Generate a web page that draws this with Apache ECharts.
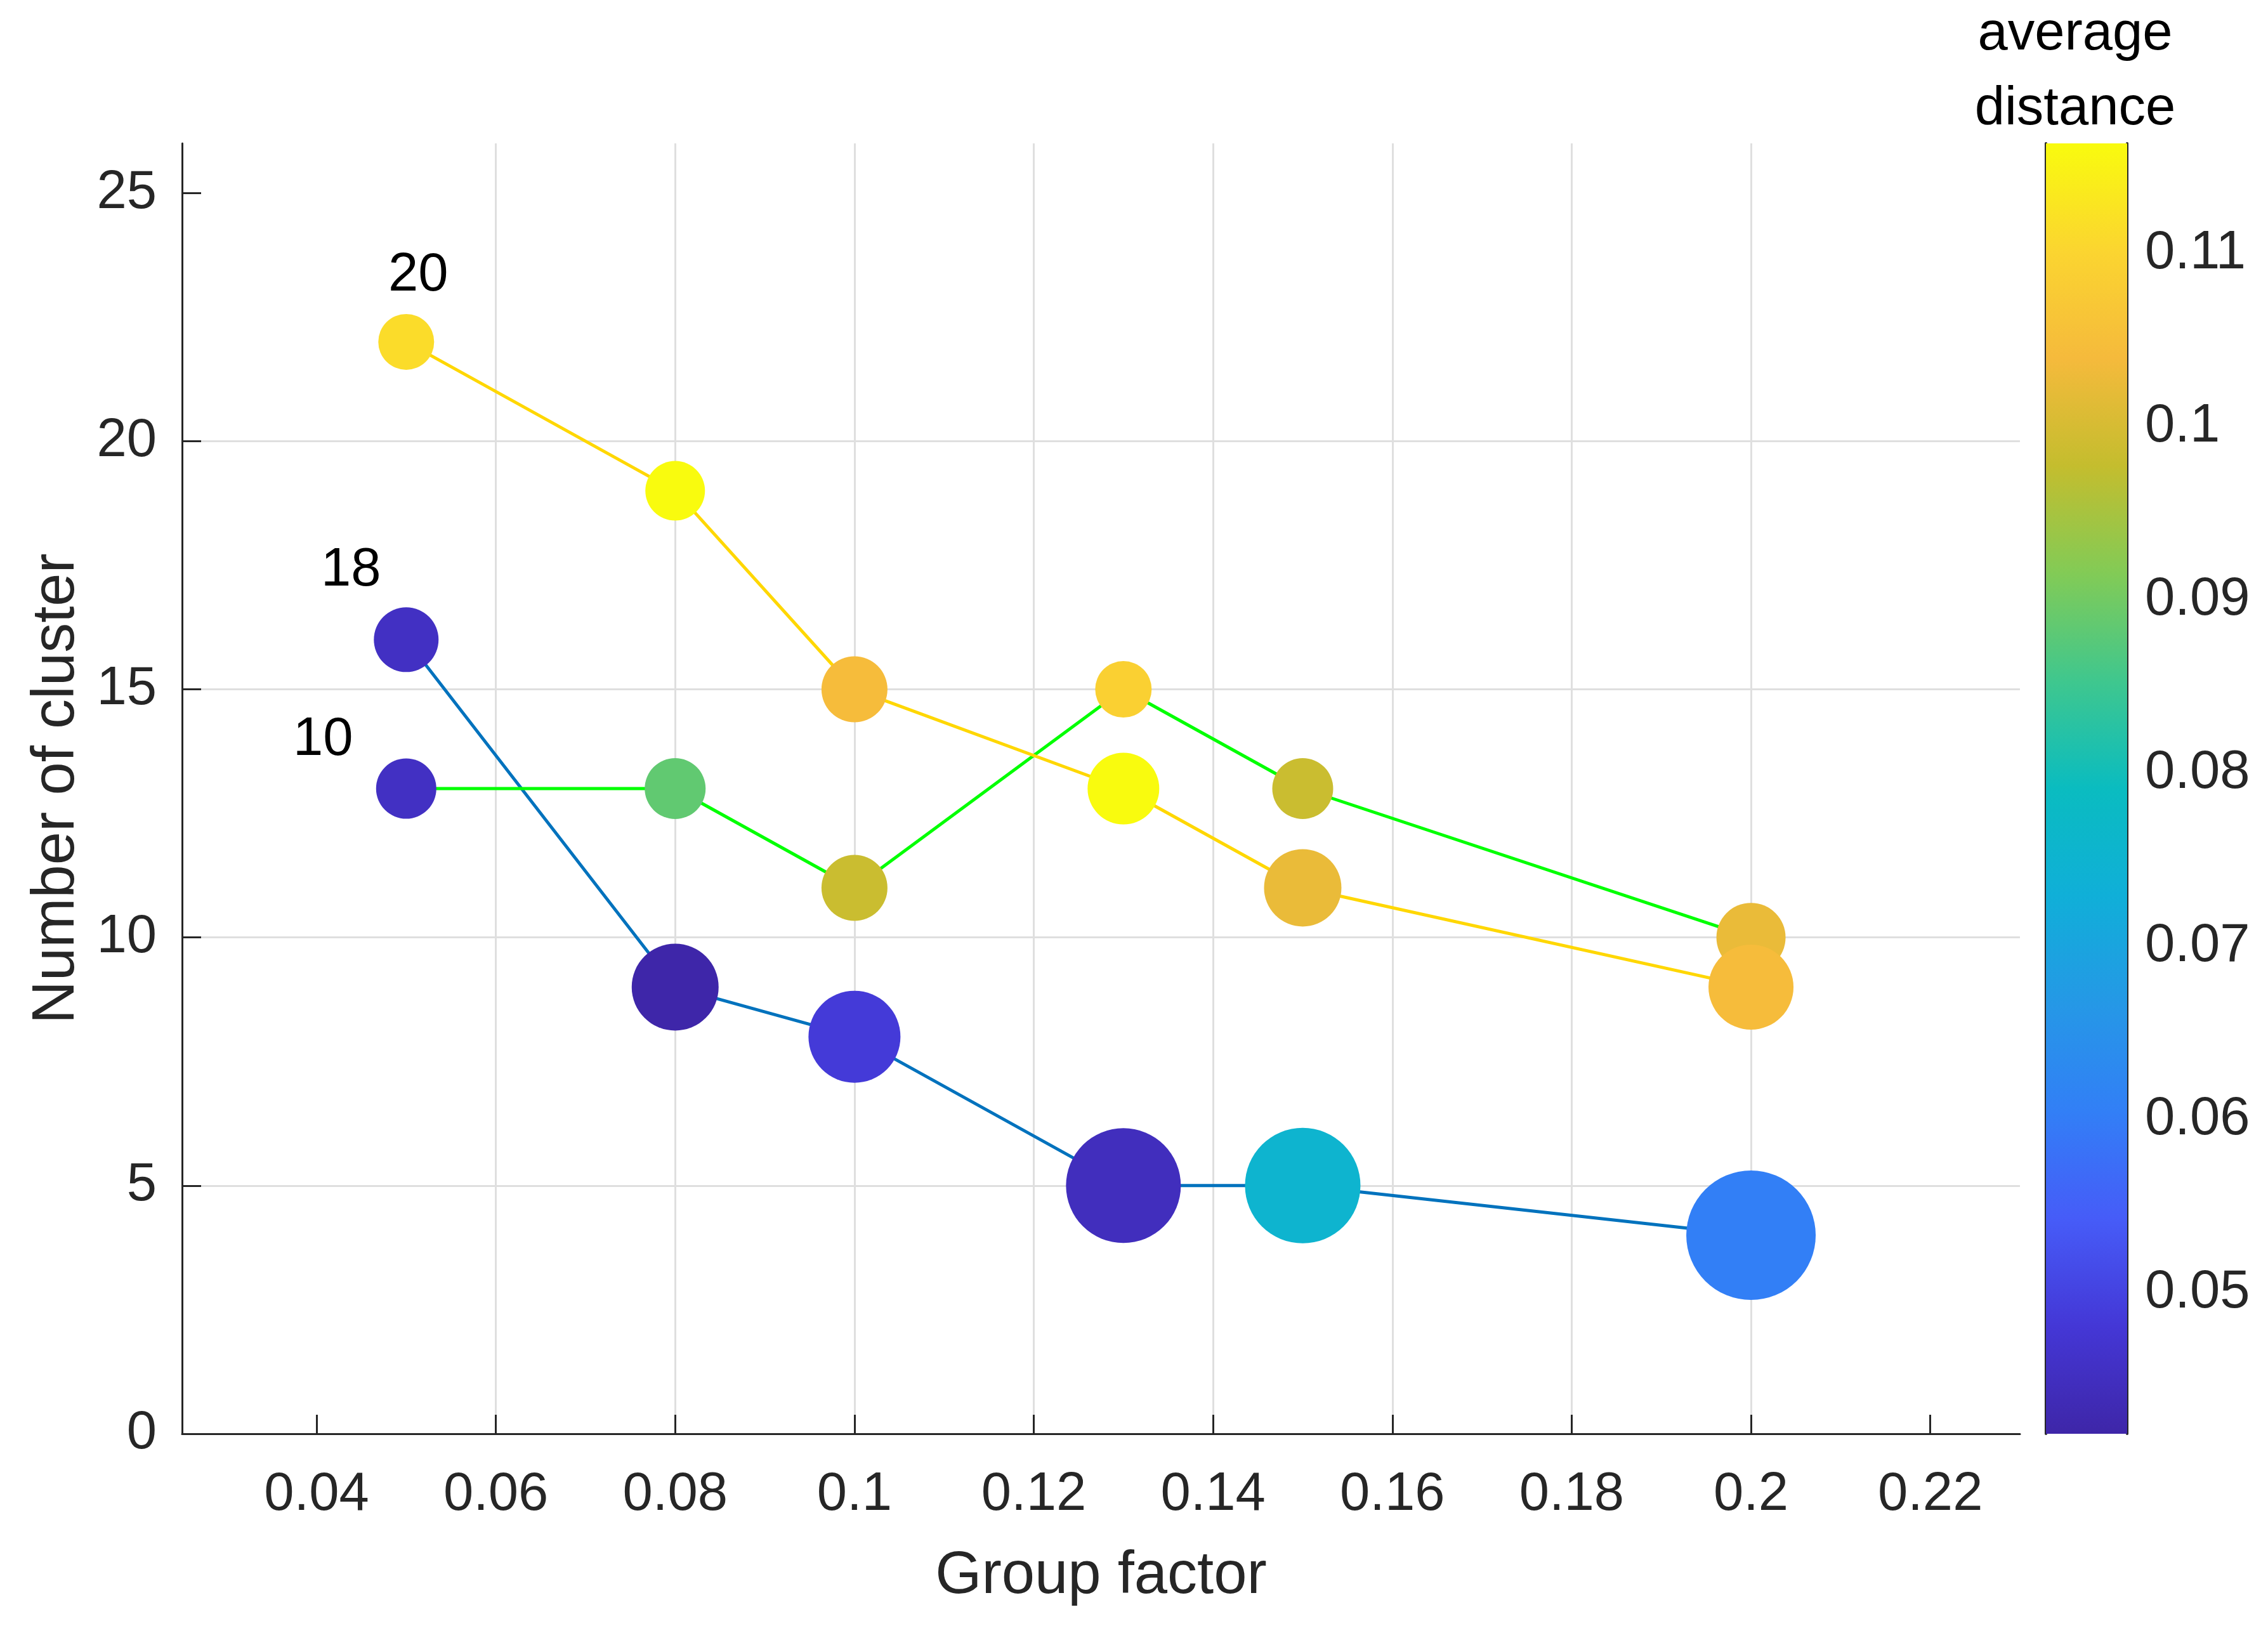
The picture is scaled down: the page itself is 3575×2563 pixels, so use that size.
<!DOCTYPE html>
<html>
<head>
<meta charset="utf-8">
<script src="https://cdn.jsdelivr.net/npm/echarts@6/dist/echarts.min.js"></script>
<style>
  html, body { margin: 0; padding: 0; background: #fff; }
  #chart { width: 3575px; height: 2563px; }
</style>
</head>
<body>
<div id="chart"></div>
<script>
// group factor on x, number of clusters on y
var groupFactor = [0.05, 0.08, 0.1, 0.13, 0.15, 0.2];

var clusterBlue = [16, 9, 8, 5, 5, 4];
var clusterGreen = [13, 13, 11, 15, 13, 10];
var clusterYellow = [22, 19, 15, 13, 11, 9];

// average distance (colour)
var distBlue = [0.0455, 0.0420, 0.0485, 0.0447, 0.0753, 0.0604];
var distGreen = [0.0455, 0.0885, 0.0985, 0.1089, 0.0985, 0.1025];
var distYellow = [0.1112, 0.1163, 0.1045, 0.1163, 0.1025, 0.1045];

// bubble size
var sizeBlue = [102, 137, 145, 181, 182, 204];
var sizeGreen = [95, 96, 104, 89, 96, 109];
var sizeYellow = [88, 94, 104, 113, 122, 134];

var tags = ['18', '10', '20'];

var xTicks = [0.04, 0.06, 0.08, 0.1, 0.12, 0.14, 0.16, 0.18, 0.2, 0.22];
var yTicks = [0, 5, 10, 15, 20, 25];
var cbarTicks = [0.05, 0.06, 0.07, 0.08, 0.09, 0.1, 0.11];
var cbarRange = [0.04186, 0.11634];

// parula-like colour map, low -> high
var cmap = ['#3e26a8', '#4437d6', '#465cf8', '#327ff6', '#2598e6', '#10afd8', '#0abcc0',
            '#3fc78e', '#82cb56', '#c4bd2e', '#f5ba3c', '#fbd530', '#f9fb0e'];

var FONT = "'Liberation Sans', Arial, Helvetica, sans-serif";
var TXT = '#262626';

var dom = document.getElementById('chart');
var myChart = echarts.init(dom, null, { renderer: 'canvas' });

function pts(ys, ds, ss) {
  return groupFactor.map(function (x, i) { return [x, ys[i], ds[i], ss[i]]; });
}
function linePts(ys) {
  return groupFactor.map(function (x, i) { return [x, ys[i]]; });
}
function bubbles(name, ys, ds, ss, tag, off) {
  var data = pts(ys, ds, ss);
  data[0] = {
    value: data[0],
    label: {
      show: true, formatter: tag, position: 'inside', offset: off,
      color: '#000', fontSize: 85, fontFamily: FONT
    }
  };
  return {
    name: name, type: 'scatter', xAxisIndex: 0, yAxisIndex: 0,
    symbolSize: function (d) { return d[3]; },
    itemStyle: { opacity: 1 },
    data: data, z: 3, silent: true
  };
}

var stops = cmap.map(function (c, i) { return { offset: i / (cmap.length - 1), color: c }; });

var option = {
  animation: false,
  backgroundColor: '#fff',
  textStyle: { fontFamily: FONT },
  grid: [
    { left: 287, right: 391, top: 226, bottom: 303 },
    { left: 3225, width: 128, top: 226, bottom: 303 }
  ],
  xAxis: [
    {
      type: 'value', gridIndex: 0, min: 0.025, max: 0.23, splitNumber: 10,
      name: 'Group factor', nameLocation: 'middle', nameGap: 178,
      nameTextStyle: { fontSize: 94, color: TXT, fontFamily: FONT },
      axisLine: { show: true, onZero: false, lineStyle: { color: TXT, width: 3 } },
      axisTick: { show: true, inside: true, length: 30, customValues: xTicks, lineStyle: { color: TXT, width: 3 } },
      axisLabel: { customValues: xTicks, fontSize: 85, color: TXT, margin: 54, fontFamily: FONT },
      splitLine: { show: true, showMinLine: false, showMaxLine: false, lineStyle: { color: '#dfdfdf', width: 3 } }
    },
    {
      type: 'value', gridIndex: 1, min: 0, max: 1, show: false
    }
  ],
  yAxis: [
    {
      type: 'value', gridIndex: 0, min: 0, max: 26, splitNumber: 5,
      name: 'Number of cluster', nameLocation: 'middle', nameGap: 150,
      nameTextStyle: { fontSize: 94, color: TXT, fontFamily: FONT },
      axisLine: { show: true, onZero: false, lineStyle: { color: TXT, width: 3 } },
      axisTick: { show: true, inside: true, length: 30, customValues: yTicks, lineStyle: { color: TXT, width: 3 } },
      axisLabel: { customValues: yTicks, fontSize: 85, color: TXT, margin: 40, fontFamily: FONT },
      splitLine: { show: true, showMinLine: false, showMaxLine: false, lineStyle: { color: '#dfdfdf', width: 3 } }
    },
    {
      type: 'value', gridIndex: 1, position: 'left', min: cbarRange[0], max: cbarRange[1],
      axisLine: { show: true, lineStyle: { color: TXT, width: 4 } },
      axisTick: { show: false }, axisLabel: { show: false }, splitLine: { show: false }
    },
    {
      type: 'value', gridIndex: 1, position: 'right', min: cbarRange[0], max: cbarRange[1],
      axisLine: { show: true, lineStyle: { color: TXT, width: 4 } },
      axisTick: { show: true, inside: true, length: 21, customValues: cbarTicks, lineStyle: { color: TXT, width: 3 } },
      axisLabel: { customValues: cbarTicks, fontSize: 85, color: TXT, margin: 28, fontFamily: FONT },
      splitLine: { show: false }
    }
  ],
  visualMap: {
    type: 'continuous', show: false, dimension: 2, seriesIndex: [3, 4, 5],
    min: cbarRange[0], max: cbarRange[1], inRange: { color: cmap }
  },
  graphic: [
    {
      type: 'text', x: 3271, y: 114, silent: true,
      style: {
        text: 'average\ndistance', align: 'center', verticalAlign: 'middle',
        fontSize: 85, lineHeight: 118, fontFamily: FONT, fill: '#000'
      }
    }
  ],
  series: [
    { type: 'line', data: linePts(clusterBlue), showSymbol: false, silent: true, z: 2,
      lineStyle: { color: '#0072BD', width: 5 } },
    { type: 'line', data: linePts(clusterGreen), showSymbol: false, silent: true, z: 2,
      lineStyle: { color: '#00FF00', width: 5 } },
    { type: 'line', data: linePts(clusterYellow), showSymbol: false, silent: true, z: 2,
      lineStyle: { color: '#FFD700', width: 5 } },
    bubbles('blue', clusterBlue, distBlue, sizeBlue, tags[0], [-87, -109]),
    bubbles('green', clusterGreen, distGreen, sizeGreen, tags[1], [-131, -76]),
    bubbles('yellow', clusterYellow, distYellow, sizeYellow, tags[2], [19, -104]),
    {
      type: 'custom', xAxisIndex: 1, yAxisIndex: 1, silent: true, z: 1,
      data: [[0, cbarRange[0], 1, cbarRange[1]]],
      renderItem: function (params, api) {
        var p0 = api.coord([api.value(0), api.value(1)]);
        var p1 = api.coord([api.value(2), api.value(3)]);
        return {
          type: 'rect',
          shape: { x: p0[0], y: p1[1], width: p1[0] - p0[0], height: p0[1] - p1[1] },
          style: { fill: new echarts.graphic.LinearGradient(0, 1, 0, 0, stops) }
        };
      }
    }
  ]
};

myChart.setOption(option);
window.addEventListener('resize', myChart.resize);
</script>
</body>
</html>
